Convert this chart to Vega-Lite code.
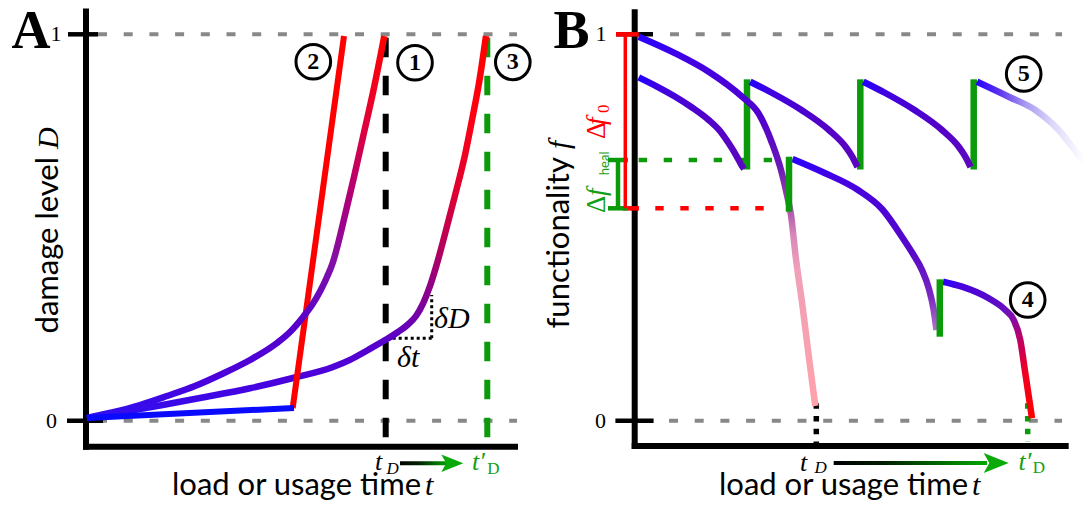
{
  "$schema": "https://vega.github.io/schema/vega-lite/v6.json",
  "padding": 0,
  "spacing": 0,
  "background": "white",
  "config": {"view": {"stroke": null}, "concat": {"spacing": 0}},
  "hconcat": [
    {
      "width": 544,
      "height": 510,
      "encoding": {
        "x": {"field": "t", "type": "quantitative", "scale": {"domain": [-2.15, 11.45], "nice": false, "zero": false}, "axis": null},
        "y": {"field": "D", "type": "quantitative", "scale": {"domain": [-0.2311, 1.0888], "nice": false, "zero": false}, "axis": null}
      },
      "layer": [
        {
          "data": {"values": [{"t": 0.3, "D": 1, "t2": 10.775, "D2": 1}, {"t": 0.3, "D": 0, "t2": 10.775, "D2": 0}]},
          "mark": {"type": "rule", "color": "#888888", "strokeWidth": 4, "strokeDash": [9, 16.7]},
          "encoding": {"x2": {"field": "t2"}, "y2": {"field": "D2"}}
        },
        {
          "data": {"values": [{"t": 7.4925, "D": 0.9912, "t2": 7.4925, "D2": -0.0455}]},
          "mark": {"type": "rule", "color": "#000000", "strokeWidth": 6, "strokeDash": [19.5, 18.5]},
          "encoding": {"x2": {"field": "t2"}, "y2": {"field": "D2"}}
        },
        {
          "data": {"values": [{"t": 10.0325, "D": 0.9912, "t2": 10.0325, "D2": -0.0455}]},
          "mark": {"type": "rule", "color": "#0a9a0a", "strokeWidth": 6, "strokeDash": [19.5, 18.5]},
          "encoding": {"x2": {"field": "t2"}, "y2": {"field": "D2"}}
        },
        {
          "data": {"values": [{"t": 0, "D": 1.0665, "t2": 0, "D2": -0.0751}, {"t": -0.075, "D": -0.0673, "t2": 10.8, "D2": -0.0673}]},
          "mark": {"type": "rule", "color": "#000000", "strokeWidth": 6},
          "encoding": {"x2": {"field": "t2"}, "y2": {"field": "D2"}}
        },
        {
          "data": {"values": [{"t": -0.45, "D": 1, "t2": 0.3, "D2": 1}, {"t": -0.475, "D": 0, "t2": 0.425, "D2": 0}]},
          "mark": {"type": "rule", "color": "#000000", "strokeWidth": 4.5},
          "encoding": {"x2": {"field": "t2"}, "y2": {"field": "D2"}}
        },
        {
          "data": {"values": [{"t": 7.5175, "D": 0.2133, "t2": 8.6425, "D2": 0.2133}, {"t": 8.6425, "D": 0.2133, "t2": 8.6425, "D2": 0.3253}]},
          "mark": {"type": "rule", "color": "#000000", "strokeWidth": 3, "strokeDash": [3, 3]},
          "encoding": {"x2": {"field": "t2"}, "y2": {"field": "D2"}}
        },
        {
          "data": {"values": [
            {"t": 0.025, "D": 0.007}, {"t": 0.85, "D": 0.0212}, {"t": 1.85, "D": 0.0393}, {"t": 2.85, "D": 0.0587},
            {"t": 4.1, "D": 0.0839}, {"t": 5.175, "D": 0.1105}, {"t": 6.175, "D": 0.139}, {"t": 6.6, "D": 0.1576},
            {"t": 7.05, "D": 0.183}, {"t": 7.5, "D": 0.2099}, {"t": 7.8, "D": 0.2296}, {"t": 8.05, "D": 0.249},
            {"t": 8.25, "D": 0.271}, {"t": 8.425, "D": 0.3033}, {"t": 8.6, "D": 0.3486}, {"t": 8.75, "D": 0.3978},
            {"t": 8.975, "D": 0.4832}, {"t": 9.225, "D": 0.5828}, {"t": 9.475, "D": 0.6876}, {"t": 9.675, "D": 0.7912},
            {"t": 9.825, "D": 0.874}, {"t": 10.0, "D": 0.9956}
          ]},
          "mark": {
            "type": "line", "strokeWidth": 6.5, "interpolate": "monotone",
            "stroke": {"gradient": "linear", "x1": 0, "y1": 1, "x2": 0, "y2": 0, "stops": [
              {"offset": 0, "color": "#3010f0"}, {"offset": 0.1, "color": "#4a00dc"}, {"offset": 0.2, "color": "#5800cc"},
              {"offset": 0.3, "color": "#800098"}, {"offset": 0.43, "color": "#b00060"}, {"offset": 0.6, "color": "#e00030"},
              {"offset": 0.8, "color": "#ff0010"}, {"offset": 1, "color": "#ff0000"}
            ]}
          }
        },
        {
          "data": {"values": [{"t": 5.1675, "D": 0.0329, "t2": 6.45, "D2": 0.9956}]},
          "mark": {"type": "rule", "color": "#ff0000", "strokeWidth": 6},
          "encoding": {"x2": {"field": "t2"}, "y2": {"field": "D2"}}
        },
        {
          "data": {"values": [
            {"t": 0.025, "D": 0.007}, {"t": 0.65, "D": 0.0212}, {"t": 1.35, "D": 0.0406}, {"t": 2.025, "D": 0.0639},
            {"t": 2.725, "D": 0.0898}, {"t": 3.4, "D": 0.1209}, {"t": 4.1, "D": 0.1571}, {"t": 4.775, "D": 0.2011},
            {"t": 5.1, "D": 0.2296}, {"t": 5.4325, "D": 0.2692}, {"t": 5.65, "D": 0.2994}, {"t": 5.85, "D": 0.3344},
            {"t": 6.025, "D": 0.3719}, {"t": 6.175, "D": 0.4107}, {"t": 6.3, "D": 0.4573}, {"t": 6.475, "D": 0.5323},
            {"t": 6.7, "D": 0.6307}, {"t": 6.925, "D": 0.7342}, {"t": 7.1875, "D": 0.8559}, {"t": 7.4575, "D": 0.9956}
          ]},
          "mark": {
            "type": "line", "strokeWidth": 6.5, "interpolate": "monotone",
            "stroke": {"gradient": "linear", "x1": 0, "y1": 1, "x2": 0, "y2": 0, "stops": [
              {"offset": 0, "color": "#3010f0"}, {"offset": 0.1, "color": "#4a00dc"}, {"offset": 0.25, "color": "#5800cc"},
              {"offset": 0.4, "color": "#8010a8"}, {"offset": 0.55, "color": "#a80080"}, {"offset": 0.7, "color": "#d00050"},
              {"offset": 0.85, "color": "#f00020"}, {"offset": 1, "color": "#ff0000"}
            ]}
          }
        },
        {
          "data": {"values": [{"t": 0.02, "D": 0.007, "t2": 5.2, "D2": 0.0329}]},
          "mark": {"type": "rule", "color": "#0a0aff", "strokeWidth": 6},
          "encoding": {"x2": {"field": "t2"}, "y2": {"field": "D2"}}
        },
        {
          "data": {"values": [{"t": 7.85, "D": -0.1102, "t2": 9.025, "D2": -0.1101}]},
          "mark": {"type": "rule", "strokeWidth": 4,
            "stroke": {"gradient": "linear", "x1": 0, "y1": 0, "x2": 1, "y2": 0, "stops": [
              {"offset": 0, "color": "#000000"}, {"offset": 0.4, "color": "#002200"}, {"offset": 1, "color": "#00a000"}
            ]}},
          "encoding": {"x2": {"field": "t2"}, "y2": {"field": "D2"}}
        },
        {
          "data": {"values": [{"t": 9.1575, "D": -0.1102}]},
          "mark": {"type": "point", "shape": "M1,0L-1,-0.8L-0.55,0L-1,0.8Z", "size": 484, "filled": true, "color": "#0aaa0a", "opacity": 1}
        },
        {
          "data": {"values": [{"t": 5.6825, "D": 0.9291}, {"t": 8.225, "D": 0.9265}, {"t": 10.67, "D": 0.9275}]},
          "mark": {"type": "point", "shape": "circle", "size": 1200, "filled": false, "stroke": "#000000", "strokeWidth": 3, "opacity": 1}
        },
        {
          "data": {"values": [{"t": 5.6825, "D": 0.9291, "label": "2"}, {"t": 8.225, "D": 0.9265, "label": "1"}, {"t": 10.67, "D": 0.9275, "label": "3"}]},
          "mark": {"type": "text", "font": "Liberation Serif", "fontSize": 24, "fontWeight": "bold", "align": "center", "baseline": "middle", "color": "#000000"},
          "encoding": {"text": {"field": "label"}}
        },
        {
          "data": {"values": [{"t": -1.375, "D": 0.9646, "label": "A"}]},
          "mark": {"type": "text", "font": "Liberation Serif", "fontSize": 54, "fontWeight": "bold", "align": "center", "baseline": "alphabetic", "color": "#000000"},
          "encoding": {"text": {"field": "label"}}
        },
        {
          "data": {"values": [{"t": -0.75, "D": 1, "label": "1"}, {"t": -0.8625, "D": 0, "label": "0"}]},
          "mark": {"type": "text", "font": "Liberation Serif", "fontSize": 22, "align": "center", "baseline": "middle", "color": "#000000"},
          "encoding": {"text": {"field": "label"}}
        },
        {
          "data": {"values": [{"t": -0.7, "D": 0.6824, "label": "damage level"}]},
          "mark": {"type": "text", "font": "Lato", "fontSize": 31, "angle": 270, "align": "right", "baseline": "alphabetic", "color": "#000000"},
          "encoding": {"text": {"field": "label"}}
        },
        {
          "data": {"values": [{"t": -0.7, "D": 0.7032, "label": "D"}]},
          "mark": {"type": "text", "font": "Liberation Serif", "fontSize": 30, "fontStyle": "italic", "angle": 270, "align": "left", "baseline": "alphabetic", "color": "#000000"},
          "encoding": {"text": {"field": "label"}}
        },
        {
          "data": {"values": [{"t": 8.375, "D": -0.1923, "label": "load or usage time"}]},
          "mark": {"type": "text", "font": "Lato", "fontSize": 31, "align": "right", "baseline": "alphabetic", "color": "#000000"},
          "encoding": {"text": {"field": "label"}}
        },
        {
          "data": {"values": [{"t": 8.475, "D": -0.1923, "label": "t"}, {"t": 7.775, "D": 0.1398, "label": "δt"}, {"t": 8.7, "D": 0.2399, "label": "δD"}]},
          "mark": {"type": "text", "font": "Liberation Serif", "fontSize": 30, "fontStyle": "italic", "align": "left", "baseline": "alphabetic", "color": "#000000"},
          "encoding": {"text": {"field": "label"}}
        },
        {
          "data": {"values": [{"t": 7.225, "D": -0.1276, "label": "t"}]},
          "mark": {"type": "text", "font": "Liberation Serif", "fontSize": 26, "fontStyle": "italic", "align": "left", "baseline": "alphabetic", "color": "#000000"},
          "encoding": {"text": {"field": "label"}}
        },
        {
          "data": {"values": [{"t": 7.5125, "D": -0.1392, "label": "D"}]},
          "mark": {"type": "text", "font": "Liberation Serif", "fontSize": 17, "fontStyle": "italic", "align": "left", "baseline": "alphabetic", "color": "#000000"},
          "encoding": {"text": {"field": "label"}}
        },
        {
          "data": {"values": [{"t": 9.65, "D": -0.1276, "label": "t′"}]},
          "mark": {"type": "text", "font": "Liberation Serif", "fontSize": 26, "fontStyle": "italic", "align": "left", "baseline": "alphabetic", "color": "#14a014"},
          "encoding": {"text": {"field": "label"}}
        },
        {
          "data": {"values": [{"t": 10.03, "D": -0.1392, "label": "D"}]},
          "mark": {"type": "text", "font": "Liberation Serif", "fontSize": 17, "align": "left", "baseline": "alphabetic", "color": "#14a014"},
          "encoding": {"text": {"field": "label"}}
        }
      ]
    },
    {
      "width": 544,
      "height": 510,
      "encoding": {
        "x": {"field": "t", "type": "quantitative", "scale": {"domain": [-2.2175, 11.3825], "nice": false, "zero": false}, "axis": null},
        "y": {"field": "D", "type": "quantitative", "scale": {"domain": [-0.2311, 1.0888], "nice": false, "zero": false}, "axis": null}
      },
      "layer": [
        {
          "data": {"values": [{"t": 0.8825, "D": 1, "t2": 10.6825, "D2": 1}, {"t": 0.8575, "D": 0, "t2": 10.6825, "D2": 0}]},
          "mark": {"type": "rule", "color": "#888888", "strokeWidth": 4, "strokeDash": [9, 16.7]},
          "encoding": {"x2": {"field": "t2"}, "y2": {"field": "D2"}}
        },
        {
          "data": {"values": [{"t": -0.11, "D": 0.5497, "t2": 3.2325, "D2": 0.5497}]},
          "mark": {"type": "rule", "color": "#ff0000", "strokeWidth": 4.5, "strokeDash": [8.4, 16.6]},
          "encoding": {"x2": {"field": "t2"}, "y2": {"field": "D2"}}
        },
        {
          "data": {"values": [{"t": 0.1, "D": 0.6747, "t2": 3.4325, "D2": 0.6747}]},
          "mark": {"type": "rule", "color": "#0a9a0a", "strokeWidth": 4.5, "strokeDash": [8.4, 16.6]},
          "encoding": {"x2": {"field": "t2"}, "y2": {"field": "D2"}}
        },
        {
          "data": {"values": [{"t": 4.54, "D": 0.045, "t2": 4.54, "D2": -0.0585}]},
          "mark": {"type": "rule", "color": "#000000", "strokeWidth": 5.5, "strokeDash": [5.5, 7.2]},
          "encoding": {"x2": {"field": "t2"}, "y2": {"field": "D2"}}
        },
        {
          "data": {"values": [{"t": 9.825, "D": 0.045, "t2": 9.825, "D2": -0.0543}]},
          "mark": {"type": "rule", "color": "#0a9a0a", "strokeWidth": 5.5, "strokeDash": [5.5, 7.2]},
          "encoding": {"x2": {"field": "t2"}, "y2": {"field": "D2"}}
        },
        {
          "data": {"values": [{"t": 0, "D": 1.0647, "t2": 0, "D2": -0.0732}, {"t": -0.075, "D": -0.0655, "t2": 10.85, "D2": -0.0655}]},
          "mark": {"type": "rule", "color": "#000000", "strokeWidth": 6},
          "encoding": {"x2": {"field": "t2"}, "y2": {"field": "D2"}}
        },
        {
          "data": {"values": [{"t": -0.4675, "D": 1, "t2": 0.4575, "D2": 1}, {"t": -0.4825, "D": 0, "t2": 0.4725, "D2": 0}]},
          "mark": {"type": "rule", "color": "#000000", "strokeWidth": 4.5},
          "encoding": {"x2": {"field": "t2"}, "y2": {"field": "D2"}}
        },
        {
          "data": {"values": [{"t": -0.4675, "D": 1, "t2": 0.1, "D2": 1}, {"t": -0.3, "D": 0.5497, "t2": 0.1, "D2": 0.5497}]},
          "mark": {"type": "rule", "color": "#ff0000", "strokeWidth": 4.5},
          "encoding": {"x2": {"field": "t2"}, "y2": {"field": "D2"}}
        },
        {
          "data": {"values": [{"t": -0.6675, "D": 0.6747, "t2": -0.1675, "D2": 0.6747}, {"t": -0.6675, "D": 0.5497, "t2": -0.1675, "D2": 0.5497}, {"t": -0.4175, "D": 0.6747, "t2": -0.4175, "D2": 0.5497}]},
          "mark": {"type": "rule", "color": "#0a9a0a", "strokeWidth": 4.5},
          "encoding": {"x2": {"field": "t2"}, "y2": {"field": "D2"}}
        },
        {
          "data": {"values": [{"t": -0.235, "D": 1, "t2": -0.235, "D2": 0.5497}]},
          "mark": {"type": "rule", "color": "#ff0000", "strokeWidth": 3.5},
          "encoding": {"x2": {"field": "t2"}, "y2": {"field": "D2"}}
        },
        {
          "data": {"values": [{"t": 2.8075, "D": 0.8835, "t2": 2.8075, "D2": 0.6501}, {"t": 5.64, "D": 0.8835, "t2": 5.64, "D2": 0.6501}, {"t": 8.475, "D": 0.8835, "t2": 8.475, "D2": 0.6501}]},
          "mark": {"type": "rule", "color": "#0a9a0a", "strokeWidth": 6.5},
          "encoding": {"x2": {"field": "t2"}, "y2": {"field": "D2"}}
        },
        {
          "data": {"values": [
            {"seg": 1, "t": 0.1, "D": 0.8887}, {"seg": 1, "t": 0.5575, "D": 0.8649}, {"seg": 1, "t": 1.015, "D": 0.8385}, {"seg": 1, "t": 1.4325, "D": 0.8106},
            {"seg": 1, "t": 1.85, "D": 0.7782}, {"seg": 1, "t": 2.1325, "D": 0.7497}, {"seg": 1, "t": 2.35, "D": 0.7179}, {"seg": 1, "t": 2.5325, "D": 0.6876},
            {"seg": 1, "t": 2.6825, "D": 0.6592}, {"seg": 1, "t": 2.7325, "D": 0.6514},
            {"seg": 2, "t": 2.8875, "D": 0.8773}, {"seg": 2, "t": 3.4375, "D": 0.8481}, {"seg": 2, "t": 4.1875, "D": 0.8028}, {"seg": 2, "t": 4.855, "D": 0.7523},
            {"seg": 2, "t": 5.2725, "D": 0.7091}, {"seg": 2, "t": 5.4375, "D": 0.6837}, {"seg": 2, "t": 5.57, "D": 0.6566},
            {"seg": 3, "t": 5.715, "D": 0.8773}, {"seg": 3, "t": 6.265, "D": 0.8481}, {"seg": 3, "t": 7.015, "D": 0.8028}, {"seg": 3, "t": 7.6825, "D": 0.7523},
            {"seg": 3, "t": 8.1, "D": 0.7091}, {"seg": 3, "t": 8.265, "D": 0.6837}, {"seg": 3, "t": 8.3975, "D": 0.6566}
          ]},
          "mark": {
            "type": "line", "strokeWidth": 6.5, "interpolate": "monotone",
            "stroke": {"gradient": "linear", "x1": 0, "y1": 0, "x2": 1, "y2": 0, "stops": [
              {"offset": 0, "color": "#2200ff"}, {"offset": 0.2, "color": "#4000e0"}, {"offset": 0.6, "color": "#5000cc"}, {"offset": 1, "color": "#5c06c0"}
            ]}
          },
          "encoding": {"detail": {"field": "seg"}}
        },
        {
          "data": {"values": [
            {"t": 8.5575, "D": 0.8773}, {"t": 9.35, "D": 0.8385}, {"t": 10.015, "D": 0.8041}, {"t": 10.6, "D": 0.7523},
            {"t": 10.9825, "D": 0.7032}, {"t": 11.2325, "D": 0.6695}
          ]},
          "mark": {
            "type": "line", "strokeWidth": 6.5, "interpolate": "monotone",
            "stroke": {"gradient": "linear", "x1": 0, "y1": 0, "x2": 1, "y2": 0, "stops": [
              {"offset": 0, "color": "#2a00ff"}, {"offset": 0.2, "color": "#5a30f0"}, {"offset": 0.45, "color": "#a898f2"},
              {"offset": 0.7, "color": "#dcd6fa"}, {"offset": 1, "color": "#ffffff"}
            ]}
          }
        },
        {
          "data": {"values": [
            {"t": 0.1, "D": 0.9938}, {"t": 1.015, "D": 0.9508}, {"t": 1.85, "D": 0.9032}, {"t": 2.6825, "D": 0.8385},
            {"t": 3.1075, "D": 0.7937}, {"t": 3.4325, "D": 0.7187}, {"t": 3.6575, "D": 0.6488}, {"t": 3.8075, "D": 0.5841},
            {"t": 3.9075, "D": 0.5324}, {"t": 4.02, "D": 0.4288}, {"t": 4.195, "D": 0.2968}, {"t": 4.3575, "D": 0.1623},
            {"t": 4.515, "D": 0.0381}
          ]},
          "mark": {
            "type": "line", "strokeWidth": 6.5, "interpolate": "monotone",
            "stroke": {"gradient": "linear", "x1": 0, "y1": 0, "x2": 0, "y2": 1, "stops": [
              {"offset": 0, "color": "#2a00ff"}, {"offset": 0.06, "color": "#4200e4"}, {"offset": 0.225, "color": "#5200cc"},
              {"offset": 0.35, "color": "#6a18b8"}, {"offset": 0.44, "color": "#9a40a8"}, {"offset": 0.537, "color": "#d888b8"},
              {"offset": 0.63, "color": "#f0a0b8"}, {"offset": 1, "color": "#ffa2aa"}
            ]}
          }
        },
        {
          "data": {"values": [
            {"t": 3.945, "D": 0.6773}, {"t": 4.7225, "D": 0.6423}, {"t": 5.5825, "D": 0.597}, {"t": 6.1825, "D": 0.5479},
            {"t": 6.7325, "D": 0.4676}, {"t": 6.9575, "D": 0.4314}, {"t": 7.1825, "D": 0.3898}, {"t": 7.35, "D": 0.3432},
            {"t": 7.475, "D": 0.2862}, {"t": 7.545, "D": 0.2347}
          ]},
          "mark": {
            "type": "line", "strokeWidth": 6.5, "interpolate": "monotone",
            "stroke": {"gradient": "linear", "x1": 0, "y1": 0, "x2": 0, "y2": 1, "stops": [
              {"offset": 0, "color": "#2a00ff"}, {"offset": 0.12, "color": "#4600e0"}, {"offset": 0.55, "color": "#5808c8"},
              {"offset": 0.8, "color": "#7a28c0"}, {"offset": 1, "color": "#b070c8"}
            ]}
          }
        },
        {
          "data": {"values": [
            {"t": 7.7075, "D": 0.3597}, {"t": 8.1825, "D": 0.3468}, {"t": 8.85, "D": 0.3168}, {"t": 9.265, "D": 0.2865},
            {"t": 9.475, "D": 0.2606}, {"t": 9.64, "D": 0.2088}, {"t": 9.765, "D": 0.1227}, {"t": 9.89, "D": 0.0362},
            {"t": 9.9325, "D": 0.0062}
          ]},
          "mark": {
            "type": "line", "strokeWidth": 6.5, "interpolate": "monotone",
            "stroke": {"gradient": "linear", "x1": 0, "y1": 0, "x2": 1, "y2": 1, "stops": [
              {"offset": 0, "color": "#2a00ff"}, {"offset": 0.125, "color": "#4a00dc"}, {"offset": 0.32, "color": "#5508cc"},
              {"offset": 0.45, "color": "#6a10c0"}, {"offset": 0.54, "color": "#8a0aa0"}, {"offset": 0.65, "color": "#c00060"},
              {"offset": 0.8, "color": "#f00020"}, {"offset": 1, "color": "#ff0000"}
            ]}
          }
        },
        {
          "data": {"values": [{"t": 3.8575, "D": 0.5409, "t2": 3.8575, "D2": 0.6832}, {"t": 7.6275, "D": 0.2174, "t2": 7.6275, "D2": 0.3659}]},
          "mark": {"type": "rule", "color": "#0a9a0a", "strokeWidth": 6.5},
          "encoding": {"x2": {"field": "t2"}, "y2": {"field": "D2"}}
        },
        {
          "data": {"values": [{"t": 4.975, "D": -0.1095, "t2": 8.8075, "D2": -0.1094}]},
          "mark": {"type": "rule", "strokeWidth": 4,
            "stroke": {"gradient": "linear", "x1": 0, "y1": 0, "x2": 1, "y2": 0, "stops": [
              {"offset": 0, "color": "#000000"}, {"offset": 0.3, "color": "#001a00"}, {"offset": 0.7, "color": "#006a00"}, {"offset": 1, "color": "#00a800"}
            ]}},
          "encoding": {"x2": {"field": "t2"}, "y2": {"field": "D2"}}
        },
        {
          "data": {"values": [{"t": 9.0375, "D": -0.1095}]},
          "mark": {"type": "point", "shape": "M1,0L-1,-0.8L-0.55,0L-1,0.8Z", "size": 625, "filled": true, "color": "#0aaa0a", "opacity": 1}
        },
        {
          "data": {"values": [{"t": 9.725, "D": 0.8973}, {"t": 9.825, "D": 0.3124}]},
          "mark": {"type": "point", "shape": "circle", "size": 1200, "filled": false, "stroke": "#000000", "strokeWidth": 3, "opacity": 1}
        },
        {
          "data": {"values": [{"t": 9.725, "D": 0.8973, "label": "5"}, {"t": 9.825, "D": 0.3124, "label": "4"}]},
          "mark": {"type": "text", "font": "Liberation Serif", "fontSize": 24, "fontWeight": "bold", "align": "center", "baseline": "middle", "color": "#000000"},
          "encoding": {"text": {"field": "label"}}
        },
        {
          "data": {"values": [{"t": -1.58, "D": 0.9646, "label": "B"}]},
          "mark": {"type": "text", "font": "Liberation Serif", "fontSize": 54, "fontWeight": "bold", "align": "center", "baseline": "alphabetic", "color": "#000000"},
          "encoding": {"text": {"field": "label"}}
        },
        {
          "data": {"values": [{"t": -0.8425, "D": 1, "label": "1"}, {"t": -0.8525, "D": 0, "label": "0"}]},
          "mark": {"type": "text", "font": "Liberation Serif", "fontSize": 22, "align": "center", "baseline": "middle", "color": "#000000"},
          "encoding": {"text": {"field": "label"}}
        },
        {
          "data": {"values": [{"t": -1.6425, "D": 0.6824, "label": "functionality"}]},
          "mark": {"type": "text", "font": "Lato", "fontSize": 31, "angle": 270, "align": "right", "baseline": "alphabetic", "color": "#000000"},
          "encoding": {"text": {"field": "label"}}
        },
        {
          "data": {"values": [{"t": -1.6425, "D": 0.7032, "label": "f"}]},
          "mark": {"type": "text", "font": "Liberation Serif", "fontSize": 30, "fontStyle": "italic", "angle": 270, "align": "left", "baseline": "alphabetic", "color": "#000000"},
          "encoding": {"text": {"field": "label"}}
        },
        {
          "data": {"values": [{"t": -0.7425, "D": 0.7288, "label": "Δ"}]},
          "mark": {"type": "text", "font": "Liberation Serif", "fontSize": 27, "angle": 270, "align": "left", "baseline": "alphabetic", "color": "#ff0000"},
          "encoding": {"text": {"field": "label"}}
        },
        {
          "data": {"values": [{"t": -0.7425, "D": 0.7655, "label": "f"}]},
          "mark": {"type": "text", "font": "Liberation Serif", "fontSize": 27, "fontStyle": "italic", "angle": 270, "align": "left", "baseline": "alphabetic", "color": "#ff0000"},
          "encoding": {"text": {"field": "label"}}
        },
        {
          "data": {"values": [{"t": -0.6425, "D": 0.7961, "label": "0"}]},
          "mark": {"type": "text", "font": "Liberation Serif", "fontSize": 17, "angle": 270, "align": "left", "baseline": "alphabetic", "color": "#ff0000"},
          "encoding": {"text": {"field": "label"}}
        },
        {
          "data": {"values": [{"t": -0.7425, "D": 0.5375, "label": "Δ"}]},
          "mark": {"type": "text", "font": "Liberation Serif", "fontSize": 27, "angle": 270, "align": "left", "baseline": "alphabetic", "color": "#14a014"},
          "encoding": {"text": {"field": "label"}}
        },
        {
          "data": {"values": [{"t": -0.7425, "D": 0.5815, "label": "f"}]},
          "mark": {"type": "text", "font": "Liberation Serif", "fontSize": 27, "fontStyle": "italic", "angle": 270, "align": "left", "baseline": "alphabetic", "color": "#14a014"},
          "encoding": {"text": {"field": "label"}}
        },
        {
          "data": {"values": [{"t": -0.6425, "D": 0.6354, "label": "heal"}]},
          "mark": {"type": "text", "font": "Lato", "fontSize": 13, "angle": 270, "align": "left", "baseline": "alphabetic", "color": "#14a014"},
          "encoding": {"text": {"field": "label"}}
        },
        {
          "data": {"values": [{"t": 8.3325, "D": -0.1923, "label": "load or usage time"}]},
          "mark": {"type": "text", "font": "Lato", "fontSize": 31, "align": "right", "baseline": "alphabetic", "color": "#000000"},
          "encoding": {"text": {"field": "label"}}
        },
        {
          "data": {"values": [{"t": 8.4325, "D": -0.1923, "label": "t"}]},
          "mark": {"type": "text", "font": "Liberation Serif", "fontSize": 30, "fontStyle": "italic", "align": "left", "baseline": "alphabetic", "color": "#000000"},
          "encoding": {"text": {"field": "label"}}
        },
        {
          "data": {"values": [{"t": 4.1325, "D": -0.1302, "label": "t"}]},
          "mark": {"type": "text", "font": "Liberation Serif", "fontSize": 26, "fontStyle": "italic", "align": "left", "baseline": "alphabetic", "color": "#000000"},
          "encoding": {"text": {"field": "label"}}
        },
        {
          "data": {"values": [{"t": 4.495, "D": -0.1361, "label": "D"}]},
          "mark": {"type": "text", "font": "Liberation Serif", "fontSize": 17, "fontStyle": "italic", "align": "left", "baseline": "alphabetic", "color": "#000000"},
          "encoding": {"text": {"field": "label"}}
        },
        {
          "data": {"values": [{"t": 9.595, "D": -0.1276, "label": "t′"}]},
          "mark": {"type": "text", "font": "Liberation Serif", "fontSize": 26, "fontStyle": "italic", "align": "left", "baseline": "alphabetic", "color": "#14a014"},
          "encoding": {"text": {"field": "label"}}
        },
        {
          "data": {"values": [{"t": 9.95, "D": -0.1361, "label": "D"}]},
          "mark": {"type": "text", "font": "Liberation Serif", "fontSize": 17, "align": "left", "baseline": "alphabetic", "color": "#14a014"},
          "encoding": {"text": {"field": "label"}}
        }
      ]
    }
  ]
}
